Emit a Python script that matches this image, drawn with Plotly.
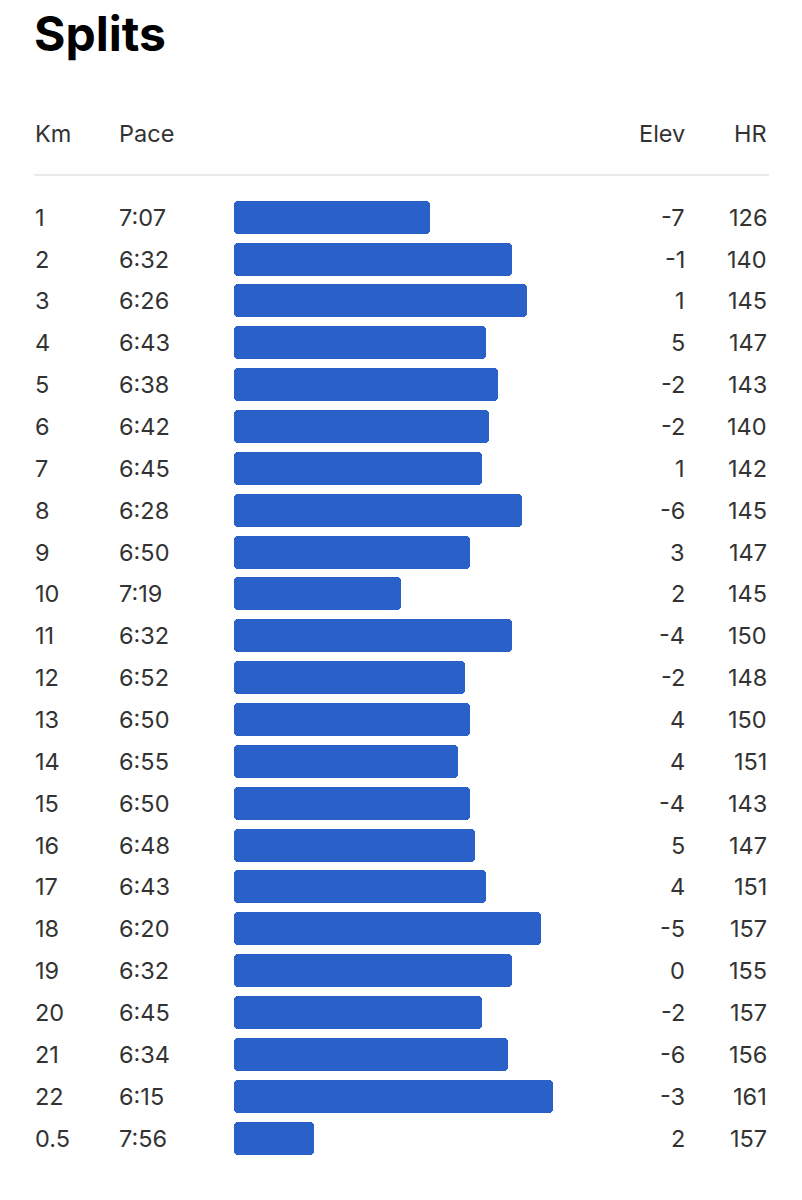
import plotly.graph_objects as go

# ---- data ----
km_labels = ["1", "2", "3", "4", "5", "6", "7", "8", "9", "10", "11", "12",
             "13", "14", "15", "16", "17", "18", "19", "20", "21", "22", "0.5"]
pace_labels = ["7:07", "6:32", "6:26", "6:43", "6:38", "6:42", "6:45", "6:28",
               "6:50", "7:19", "6:32", "6:52", "6:50", "6:55", "6:50", "6:48",
               "6:43", "6:20", "6:32", "6:45", "6:34", "6:15", "7:56"]
elev = [-7, -1, 1, 5, -2, -2, 1, -6, 3, 2, -4, -2, 4, 4, -4, 5, 4, -5, 0, -2, -6, -3, 2]
hr = [126, 140, 145, 147, 143, 140, 142, 145, 147, 145, 150, 148, 150, 151,
      143, 147, 151, 157, 155, 157, 156, 161, 157]
headers = ["Km", "Pace", "Elev", "HR"]
title = "Splits"

pace_sec = [int(p.split(":")[0]) * 60 + int(p.split(":")[1]) for p in pace_labels]
n = len(km_labels)
rows = list(range(n))

# ---- layout constants (pixels) ----
W, H = 802, 1200
PACE_ZERO = 509.6          # pace (s) at which a bar has zero length
PX_PER_SEC = 2.368
BAR_LEFT = 234
ROW0 = 217.2
ROW_STEP = 41.86

x_left = PACE_ZERO + BAR_LEFT / PX_PER_SEC
x_right = PACE_ZERO - (W - BAR_LEFT) / PX_PER_SEC
y_top = -ROW0 / ROW_STEP
y_bot = (H - ROW0) / ROW_STEP

def px_to_paper_x(px):
    return px / W

def px_to_paper_y(py):
    return 1 - py / H

BLUE = "#2961C9"
TXT = "#333333"
FONT = "Inter, Roboto, sans-serif"
FS = 23.5

fig = go.Figure()
fig.add_trace(go.Bar(
    orientation="h",
    y=rows,
    x=[p - PACE_ZERO for p in pace_sec],
    base=[PACE_ZERO] * n,
    width=0.79,
    marker=dict(color=BLUE, cornerradius=4, line=dict(width=0)),
    hoverinfo="skip",
))

ann = []
# title
ann.append(dict(text="<b>" + title + "</b>", xref="paper", yref="paper",
                x=px_to_paper_x(32), y=px_to_paper_y(34), xanchor="left", yanchor="middle",
                showarrow=False, font=dict(family=FONT, size=48, color="#000000")))
# headers
hdr_pos = [(33, "left"), (117, "left"), (687, "right"), (769, "right")]
for h, (px, anc) in zip(headers, hdr_pos):
    ann.append(dict(text=h, xref="paper", yref="paper",
                    x=px_to_paper_x(px), y=px_to_paper_y(133), xanchor=anc, yanchor="middle",
                    showarrow=False, font=dict(family=FONT, size=FS, color=TXT)))
# rows
for i in rows:
    for txt, (px, anc) in zip([km_labels[i], pace_labels[i], str(elev[i]), str(hr[i])], hdr_pos):
        ann.append(dict(text=txt, xref="paper", yref="y",
                        x=px_to_paper_x(px), y=i, xanchor=anc, yanchor="middle",
                        showarrow=False, font=dict(family=FONT, size=FS, color=TXT)))

fig.update_layout(
    width=W, height=H,
    margin=dict(l=0, r=0, t=0, b=0),
    paper_bgcolor="white", plot_bgcolor="white",
    showlegend=False,
    bargap=0,
    xaxis=dict(range=[x_left, x_right], visible=False, fixedrange=True),
    yaxis=dict(range=[y_bot, y_top], visible=False, fixedrange=True),
    annotations=ann,
    shapes=[dict(type="line", xref="paper", yref="paper",
                 x0=px_to_paper_x(34), x1=px_to_paper_x(769),
                 y0=px_to_paper_y(175), y1=px_to_paper_y(175),
                 line=dict(color="#E3E3E3", width=1.5))],
)

fig.write_html("out.html")
